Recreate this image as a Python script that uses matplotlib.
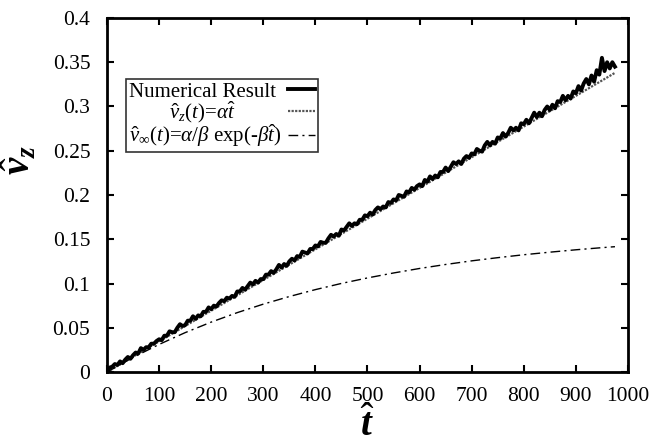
import matplotlib
matplotlib.use("Agg")
import matplotlib.pyplot as plt

plt.rcParams['font.family'] = ['Liberation Serif', 'DejaVu Serif']
plt.rcParams['mathtext.fontset'] = 'custom'
plt.rcParams['mathtext.rm'] = 'Liberation Serif'
plt.rcParams['mathtext.it'] = 'Liberation Serif:italic'
plt.rcParams['mathtext.bf'] = 'Liberation Serif:bold'
plt.rcParams['mathtext.bfit'] = 'Liberation Serif:bold:italic'

# Numerical result (t step 5, from 0 to 975)
t_num = list(range(0, 980, 5))
v_num = [
    0.001, 0.005, 0.006, 0.009, 0.008, 0.012, 0.010, 0.014, 0.017, 0.015,
    0.019, 0.022, 0.021, 0.027, 0.025, 0.028, 0.028, 0.032, 0.032, 0.035,
    0.037, 0.036, 0.041, 0.041, 0.046, 0.045, 0.045, 0.050, 0.054, 0.052,
    0.053, 0.058, 0.058, 0.063, 0.060, 0.064, 0.063, 0.068, 0.068, 0.073,
    0.071, 0.075, 0.074, 0.078, 0.081, 0.080, 0.084, 0.083, 0.086, 0.085,
    0.091, 0.091, 0.095, 0.093, 0.097, 0.101, 0.099, 0.103, 0.101, 0.105,
    0.105, 0.110, 0.110, 0.114, 0.112, 0.116, 0.121, 0.118, 0.122, 0.120,
    0.125, 0.128, 0.126, 0.131, 0.130, 0.136, 0.135, 0.134, 0.139, 0.139,
    0.143, 0.142, 0.147, 0.146, 0.146, 0.151, 0.155, 0.153, 0.156, 0.154,
    0.161, 0.160, 0.164, 0.168, 0.165, 0.168, 0.167, 0.172, 0.172, 0.177,
    0.176, 0.180, 0.178, 0.183, 0.186, 0.184, 0.187, 0.186, 0.192, 0.191,
    0.195, 0.194, 0.200, 0.199, 0.198, 0.204, 0.203, 0.208, 0.206, 0.210,
    0.212, 0.210, 0.217, 0.215, 0.221, 0.218, 0.222, 0.220, 0.226, 0.226,
    0.231, 0.227, 0.232, 0.237, 0.235, 0.238, 0.235, 0.241, 0.244, 0.242,
    0.247, 0.246, 0.252, 0.250, 0.249, 0.256, 0.260, 0.256, 0.260, 0.258,
    0.265, 0.264, 0.270, 0.266, 0.270, 0.276, 0.273, 0.276, 0.273, 0.281,
    0.280, 0.285, 0.281, 0.287, 0.293, 0.288, 0.293, 0.289, 0.296, 0.300,
    0.296, 0.302, 0.298, 0.306, 0.305, 0.312, 0.307, 0.312, 0.309, 0.317,
    0.315, 0.323, 0.318, 0.326, 0.331, 0.325, 0.335, 0.328, 0.341, 0.336,
    0.355, 0.340, 0.350, 0.343, 0.350, 0.345,
]

# Linear fit  v = alpha * t
t_lin = [0, 975]
v_lin = [0.0, 0.338]

# Saturating curve
t_exp = [0, 50, 100, 150, 200, 250, 300, 350, 400, 450, 500, 550, 600,
         650, 700, 750, 800, 850, 900, 950, 975]
v_exp = [0.0, 0.0165, 0.0312, 0.0445, 0.0564, 0.0671, 0.0767, 0.0853,
         0.0931, 0.1001, 0.1063, 0.1119, 0.1170, 0.1215, 0.1256, 0.1292,
         0.1325, 0.1354, 0.1381, 0.1405, 0.1416]

x_ticks = [0, 100, 200, 300, 400, 500, 600, 700, 800, 900, 1000]
y_ticks = [0, 0.05, 0.1, 0.15, 0.2, 0.25, 0.3, 0.35, 0.4]
y_ticklabels = ['0', '0.05', '0.1', '0.15', '0.2', '0.25', '0.3', '0.35', '0.4']

labels = ['Numerical Result ',
          r'$\hat{v}_z(t)$=$\alpha\hat{t}$' + '          ',
          r'$\hat{v}_\infty(t)$=$\alpha$/$\beta$ exp(-$\beta\hat{t}$)']

fig = plt.figure(figsize=(6.49, 4.45), dpi=100)
ax = fig.add_axes([0.1649, 0.164, 0.8027, 0.7956])

ax.plot(t_num, v_num, color='black', lw=2.8, label=labels[0], zorder=3)
ax.plot(t_lin, v_lin, color='#555555', lw=1.6, ls=(0, (1, 0.6)),
        label=labels[1], zorder=2)
ax.plot(t_exp, v_exp, color='black', lw=1.0, ls=(0, (7, 3, 1.5, 3)),
        label=labels[2], zorder=2)

ax.set_xlim(0, 1000)
ax.set_ylim(0, 0.4)
ax.set_xticks(x_ticks)
ax.set_xticklabels([str(v) for v in x_ticks])
ax.set_yticks(y_ticks)
ax.set_yticklabels(y_ticklabels)
ax.tick_params(direction='in', length=5, width=1.5, labelsize=15.5,
               top=True, right=True)
ax.tick_params(axis='y', pad=12)
ax.tick_params(axis='x', pad=11)
for s in ax.spines.values():
    s.set_linewidth(2)

ax.set_xlabel(r'$\hat{\boldsymbol{t}}$', fontsize=28)
ax.xaxis.set_label_coords(0.5, -0.1)
ax.set_ylabel(r'$\hat{\boldsymbol{v}}_{\boldsymbol{z}}$', fontsize=28)
ax.yaxis.set_label_coords(-0.13, 0.6)

leg = ax.legend(loc='upper left', bbox_to_anchor=(0.0365, 0.828),
                borderaxespad=0, markerfirst=False, fontsize=15,
                frameon=True, fancybox=False, handlelength=1.3,
                handletextpad=0.3, borderpad=0.15, labelspacing=-0.12)
leg.get_frame().set_edgecolor('black')
leg.get_frame().set_linewidth(1.2)

fig.savefig('out.png', dpi=100)
